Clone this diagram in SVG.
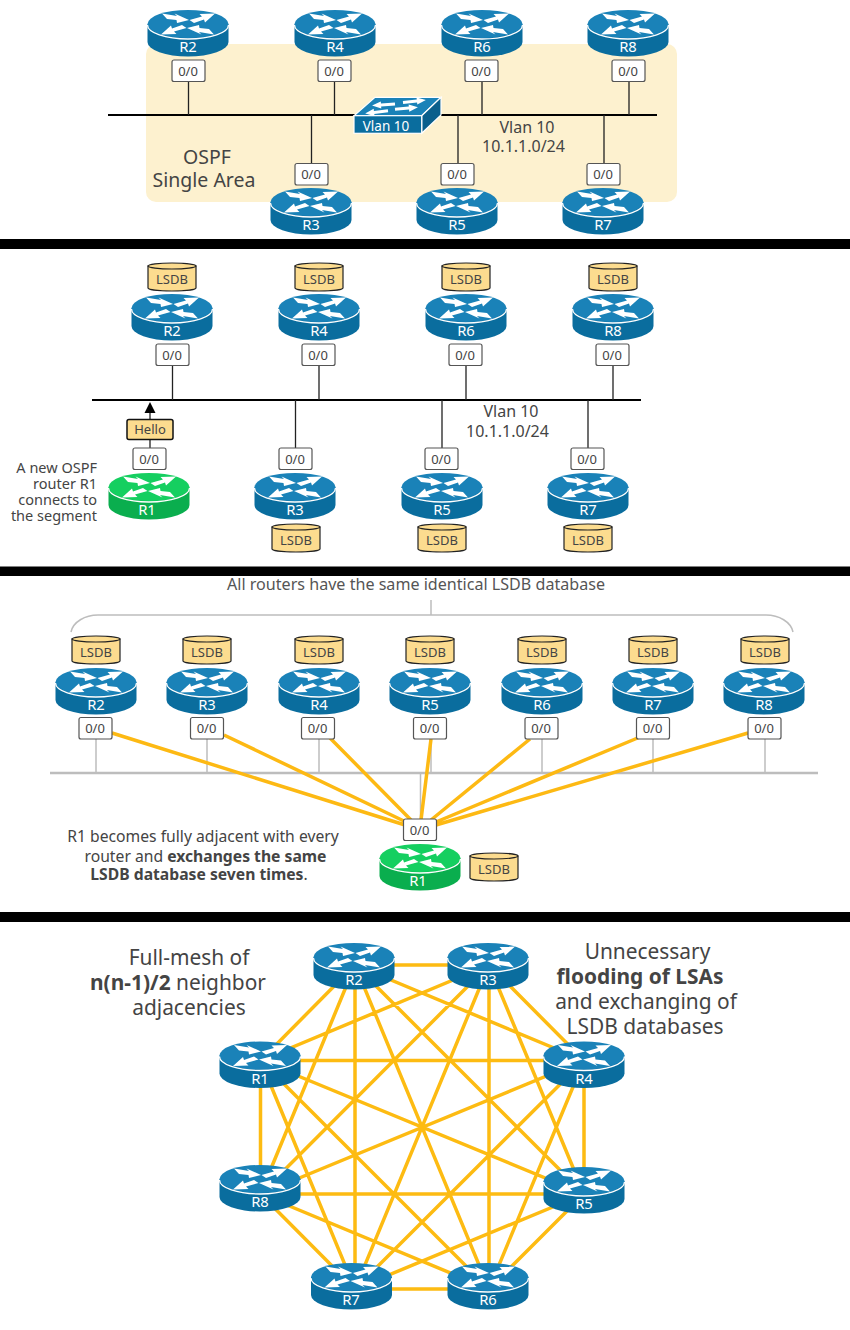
<svg xmlns="http://www.w3.org/2000/svg" width="850" height="1330" viewBox="0 0 850 1330">
<style>
text{font-family:"Noto Sans","Open Sans","DejaVu Sans",sans-serif;fill:#444;text-anchor:middle}
.rl{font-size:14.8px;fill:#fff}
.pl{fill:#fff;stroke:#555;stroke-width:1.2}
.pt{font-size:13px;fill:#444}
.ls{font-size:13px;fill:#444}
.bus{stroke:#000;stroke-width:2;fill:none}
.stub{stroke:#222;stroke-width:1.3;fill:none}
.gb{stroke:#bdbdbd;stroke-width:2.5;fill:none}
.gs{stroke:#bdbdbd;stroke-width:1.5;fill:none}
.yl{stroke:#fdb913;stroke-width:3.5;fill:none}
.ym{stroke:#fdbb12;stroke-width:3.5;fill:none}
.n14{font-size:16px}
.n15{font-size:15.7px}
.n18{font-size:19.5px}
.n20{font-size:20.9px}
.nr{font-size:14.5px;text-anchor:end}
.b{font-weight:700}
</style>
<defs>
<path id="arr" d="M0-1.5H14V-3.6L23 0 14 3.6V1.5H0Z" fill="#fff"/>
<path id="arrows" fill="#fff" d="M-26 3.500L-11 6-13.500 3.500 1 10-11 13-11.500 10-21 9ZM27 3.500L17 12.500 16 9.500 6 13 1.500 10 14 6.500 11.500 4ZM-27 24.500L-17 15.500-16 18.500-6 15-1.500 18-14 21.500-11.500 24ZM26 24.500L11 22 13.500 24.500-1 18 11 15 11.500 18 21 19Z"/>
<g id="router">
<path d="M-40.500 14V32A40.500 14.500 0 0 0 40.500 32V14Z" fill="#0a6d9e"/>
<ellipse cx="0" cy="14" rx="40.500" ry="14" fill="#1a82b8"/>
<path d="M-40.500 15A40.500 14 0 0 0 40.500 15" fill="none" stroke="#fff" stroke-width="1.300"/>
<use href="#arrows"/>
</g>
<g id="routerg">
<path d="M-40.500 14V32A40.500 14.500 0 0 0 40.500 32V14Z" fill="#0aae4e"/>
<ellipse cx="0" cy="14" rx="40.500" ry="14" fill="#15cf60"/>
<path d="M-40.500 15A40.500 14 0 0 0 40.500 15" fill="none" stroke="#fff" stroke-width="1.300"/>
<use href="#arrows"/>
</g>
<g id="port">
<rect x="-16.500" y="0" width="33" height="21.500" rx="2" class="pl"/>
<text x="-0.500" y="15.500" class="pt">0/0</text>
</g>
<g id="lsdb">
<path d="M0 3V25A24 3 0 0 0 48 25V3Z" fill="#fcdc8f" stroke="#222" stroke-width="1.200"/>
<ellipse cx="24" cy="3" rx="24" ry="3" fill="#fcdc8f" stroke="#222" stroke-width="1.200"/>
<text x="24" y="20.500" class="ls">LSDB</text>
</g>
</defs>

<rect width="850" height="1330" fill="#fff"/>
<rect id="area" x="146" y="44" width="531" height="158" rx="10" fill="#fdf1cf"/>
<rect x="0" y="239" width="850" height="10" fill="#000"/>
<rect x="0" y="566.500" width="850" height="9.500" fill="#000"/>
<rect x="0" y="912" width="850" height="10" fill="#000"/>

<g id="connectors">
<path class="bus" d="M108 115H657"/>
<path class="stub" d="M188.500 81V115M334.500 81V115M482 81V115M629 81V115M311.500 115V164M458 115V164M604 115V164"/>
<path class="bus" d="M92 400H641"/>
<path class="stub" d="M172.500 365V400M319 365V400M466 365V400M613 365V400M295.500 400V448M442 400V448M588 400V448M150 469V412"/>
<path d="M150 402L155.500 413H144.500Z" fill="#000"/>
<path class="gb" d="M50 773H818"/>
<path class="gs" d="M96 739V773M207 739V773M319 739V773M431 739V773M542 739V773M653 739V773M765 739V773M420.500 773V819"/>
<path class="gs" d="M71 632C73 622 85 615 98 615H766C779 615 791 622 793 632M431 600V615"/>
<path class="yl" d="M112 733L405 825M224 735L406 822M330 738L411 820M431 739L421 820M530 739L431 820M640 737L436 822M748 733L436 825"/>
<path class="ym" d="M355 965L489 965M355 965L260.500 1060.500M355 965L584 1060.500M355 965L260.500 1194M355 965L584 1194M355 965L355 1289M355 965L489 1289M489 965L260.500 1060.500M489 965L584 1060.500M489 965L260.500 1194M489 965L584 1194M489 965L355 1289M489 965L489 1289M260.500 1060.500L584 1060.500M260.500 1060.500L260.500 1194M260.500 1060.500L584 1194M260.500 1060.500L355 1289M260.500 1060.500L489 1289M584 1060.500L260.500 1194M584 1060.500L584 1194M584 1060.500L355 1289M584 1060.500L489 1289M260.500 1194L584 1194M260.500 1194L355 1289M260.500 1194L489 1289M584 1194L355 1289M584 1194L489 1289M355 1289L489 1289"/>
</g>

<g id="p1-labels">
<text x="207" y="164" class="n18">OSPF</text>
<text x="204" y="187" class="n18">Single Area</text>
<text x="527" y="133" class="n14">Vlan 10</text>
<text x="523.500" y="152" class="n14">10.1.1.0/24</text>
</g>
<g id="p1-switch">
<path d="M354 115.700L375 97.300H441L421.700 115.700Z" fill="#1a82b8" stroke="#fff" stroke-width="1.200"/>
<path d="M421.700 115.700L441 97.300V115L421.700 133.300Z" fill="#0a5f8c" stroke="#fff" stroke-width="1.200"/>
<rect x="354" y="115.700" width="67.700" height="17.600" fill="#0a6d9e" stroke="#fff" stroke-width="1.200"/>
<use href="#arr" transform="translate(395,104) rotate(176)"/>
<use href="#arr" transform="translate(403,102.500) rotate(-6)"/>
<use href="#arr" transform="translate(388,110.700) rotate(173)"/>
<use href="#arr" transform="translate(395,109.300) rotate(-5)"/>
<text x="386" y="130.500" style="font-size:13.500px;fill:#fff">Vlan 10</text>
</g>

<g id="p1-R2"><use href="#router" x="188" y="10"/><text x="188" y="52" class="rl">R2</text><use href="#port" x="188.500" y="60"/></g>
<g id="p1-R4"><use href="#router" x="335" y="10"/><text x="335" y="52" class="rl">R4</text><use href="#port" x="334.500" y="60"/></g>
<g id="p1-R6"><use href="#router" x="482" y="10"/><text x="482" y="52" class="rl">R6</text><use href="#port" x="481.500" y="60"/></g>
<g id="p1-R8"><use href="#router" x="628" y="10"/><text x="628" y="52" class="rl">R8</text><use href="#port" x="628.500" y="60"/></g>
<g id="p1-R3"><use href="#router" x="311" y="188"/><text x="311" y="230" class="rl">R3</text><use href="#port" x="311.500" y="163.500"/></g>
<g id="p1-R5"><use href="#router" x="457" y="188"/><text x="457" y="230" class="rl">R5</text><use href="#port" x="457.500" y="163.500"/></g>
<g id="p1-R7"><use href="#router" x="603" y="188"/><text x="603" y="230" class="rl">R7</text><use href="#port" x="603.500" y="163.500"/></g>

<g id="p2-labels">
<text x="511" y="417" class="n14">Vlan 10</text>
<text x="507.500" y="437" class="n14">10.1.1.0/24</text>
<text x="97" y="473" class="nr">A new OSPF</text>
<text x="97" y="489" class="nr">router R1</text>
<text x="97" y="505" class="nr">connects to</text>
<text x="97" y="521" class="nr">the segment</text>
</g>
<g id="p2-R2"><use href="#lsdb" x="148" y="263"/><use href="#router" x="172" y="294"/><text x="172" y="336" class="rl">R2</text><use href="#port" x="172.500" y="344"/></g>
<g id="p2-R4"><use href="#lsdb" x="295" y="263"/><use href="#router" x="319" y="294"/><text x="319" y="336" class="rl">R4</text><use href="#port" x="318.500" y="344"/></g>
<g id="p2-R6"><use href="#lsdb" x="442" y="263"/><use href="#router" x="466" y="294"/><text x="466" y="336" class="rl">R6</text><use href="#port" x="465.500" y="344"/></g>
<g id="p2-R8"><use href="#lsdb" x="589" y="263"/><use href="#router" x="613" y="294"/><text x="613" y="336" class="rl">R8</text><use href="#port" x="612.500" y="344"/></g>
<g id="p2-R1"><use href="#routerg" x="149" y="473"/><text x="147" y="515" class="rl">R1</text><use href="#port" x="149.500" y="448"/></g>
<g id="p2-hello"><rect x="127" y="419.500" width="46" height="20" rx="2" fill="#fcdc8f" stroke="#111" stroke-width="1.500"/><text x="150" y="433.500" class="pt">Hello</text></g>
<g id="p2-R3"><use href="#router" x="295" y="473"/><text x="295" y="515" class="rl">R3</text><use href="#port" x="295.500" y="448"/><use href="#lsdb" x="272" y="524"/></g>
<g id="p2-R5"><use href="#router" x="442" y="473"/><text x="442" y="515" class="rl">R5</text><use href="#port" x="441.500" y="448"/><use href="#lsdb" x="418" y="524"/></g>
<g id="p2-R7"><use href="#router" x="588" y="473"/><text x="588" y="515" class="rl">R7</text><use href="#port" x="587.500" y="448"/><use href="#lsdb" x="564" y="524"/></g>

<g id="p3-labels">
<text x="416" y="590" style="font-size:16.100px;fill:#555">All routers have the same identical LSDB database</text>
<text x="203" y="842" class="n15">R1 becomes fully adjacent with every</text>
<text x="205.500" y="862" class="n15">router and <tspan class="b">exchanges the same</tspan></text>
<text x="199" y="880" class="n15"><tspan class="b">LSDB database seven times</tspan>.</text>
</g>
<g id="p3-R2"><use href="#lsdb" x="72" y="636"/><use href="#router" x="96" y="668"/><text x="96" y="710" class="rl">R2</text><use href="#port" x="95.500" y="717.500"/></g>
<g id="p3-R3"><use href="#lsdb" x="183" y="636"/><use href="#router" x="207" y="668"/><text x="207" y="710" class="rl">R3</text><use href="#port" x="207" y="717.500"/></g>
<g id="p3-R4"><use href="#lsdb" x="295" y="636"/><use href="#router" x="319" y="668"/><text x="319" y="710" class="rl">R4</text><use href="#port" x="318" y="717.500"/></g>
<g id="p3-R5"><use href="#lsdb" x="406" y="636"/><use href="#router" x="430" y="668"/><text x="430" y="710" class="rl">R5</text><use href="#port" x="430" y="717.500"/></g>
<g id="p3-R6"><use href="#lsdb" x="518" y="636"/><use href="#router" x="542" y="668"/><text x="542" y="710" class="rl">R6</text><use href="#port" x="541.500" y="717.500"/></g>
<g id="p3-R7"><use href="#lsdb" x="629" y="636"/><use href="#router" x="653" y="668"/><text x="653" y="710" class="rl">R7</text><use href="#port" x="653" y="717.500"/></g>
<g id="p3-R8"><use href="#lsdb" x="741" y="636"/><use href="#router" x="764" y="668"/><text x="764" y="710" class="rl">R8</text><use href="#port" x="764.500" y="717.500"/></g>
<g id="p3-R1"><use href="#port" x="420" y="819"/><use href="#routerg" x="420" y="844"/><text x="418" y="886" class="rl">R1</text><use href="#lsdb" x="470" y="853"/></g>

<g id="p4-labels">
<text x="189" y="965" class="n20">Full-mesh of</text>
<text x="178" y="990" class="n20"><tspan class="b">n(n-1)/2</tspan> neighbor</text>
<text x="189" y="1015" class="n20">adjacencies</text>
<text x="647.500" y="959" class="n20">Unnecessary</text>
<text x="640" y="984" class="n20 b">flooding of LSAs</text>
<text x="646" y="1009" class="n20">and exchanging of</text>
<text x="645" y="1034" class="n20">LSDB databases</text>
</g>
<g id="p4-R2"><use href="#router" x="354" y="943"/><text x="354" y="985" class="rl">R2</text></g>
<g id="p4-R3"><use href="#router" x="488" y="943"/><text x="488" y="985" class="rl">R3</text></g>
<g id="p4-R1"><use href="#router" x="260" y="1041.500"/><text x="260" y="1083.500" class="rl">R1</text></g>
<g id="p4-R4"><use href="#router" x="584" y="1041.500"/><text x="584" y="1083.500" class="rl">R4</text></g>
<g id="p4-R8"><use href="#router" x="260" y="1165"/><text x="260" y="1207" class="rl">R8</text></g>
<g id="p4-R5"><use href="#router" x="584" y="1167"/><text x="584" y="1209" class="rl">R5</text></g>
<g id="p4-R7"><use href="#router" x="351.500" y="1263"/><text x="351" y="1305" class="rl">R7</text></g>
<g id="p4-R6"><use href="#router" x="488" y="1263"/><text x="488" y="1305" class="rl">R6</text></g>
</svg>
